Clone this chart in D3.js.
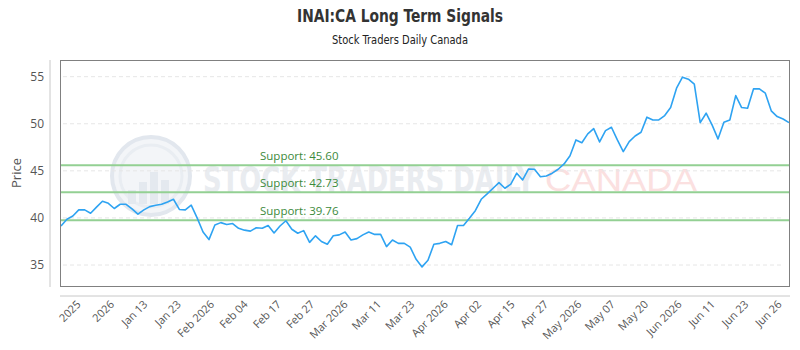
<!DOCTYPE html>
<html>
<head>
<meta charset="utf-8">
<script src="https://cdn.jsdelivr.net/npm/d3@7/dist/d3.min.js"></script>
<style>
  html, body { margin: 0; padding: 0; background: #fff; }
  svg { display: block; }
</style>
</head>
<body>
<svg id="chart" width="800" height="350"></svg>
<script>
// ---- Data ----
const prices = [
  39.14, 39.86, 40.20, 40.85, 40.85, 40.50, 41.15, 41.77, 41.55, 41.00,
  41.45, 41.45, 40.95, 40.40, 40.85, 41.20, 41.35, 41.45, 41.70, 41.98,
  40.90, 40.85, 41.35, 40.00, 38.50, 37.70, 39.25, 39.50, 39.30, 39.40,
  38.90, 38.70, 38.60, 38.96, 38.90, 39.20, 38.40, 39.14, 39.70, 38.80,
  38.37, 38.65, 37.40, 38.10, 37.50, 37.20, 38.10, 38.20, 38.50, 37.65,
  37.80, 38.20, 38.50, 38.25, 38.25, 36.95, 37.65, 37.30, 37.30, 36.90,
  35.60, 34.80, 35.50, 37.20, 37.30, 37.50, 37.15, 39.20, 39.20, 39.96,
  40.77, 41.98, 42.55, 43.15, 43.75, 43.15, 43.58, 44.75, 44.03, 45.20,
  45.17, 44.38, 44.46, 44.75, 45.17, 45.73, 46.60, 48.28, 47.99, 48.92,
  49.48, 48.07, 49.27, 49.63, 48.28, 47.04, 48.10, 48.70, 49.10, 50.70,
  50.40, 50.40, 50.87, 51.72, 53.78, 54.95, 54.73, 54.20, 50.12, 51.12,
  49.88, 48.39, 50.16, 50.40, 52.99, 51.72, 51.65, 53.70, 53.70, 53.25,
  51.37, 50.76, 50.50, 50.12
];
const tickLabels = [
  "2025", "2026", "Jan 13", "Jan 23", "Feb 2026", "Feb 04", "Feb 17", "Feb 27",
  "Mar 2026", "Mar 11", "Mar 23", "Apr 2026", "Apr 02", "Apr 15", "Apr 27",
  "May 2026", "May 07", "May 20", "Jun 2026", "Jun 11", "Jun 23", "Jun 26"
];
const yTicks = [35, 40, 45, 50, 55];
const supportLevels = [45.60, 42.73, 39.76];
const titleText = "INAI:CA Long Term Signals";
const subtitleText = "Stock Traders Daily Canada";

// ---- Layout ----
const W = 800, H = 350;
const plot = { left: 60, right: 789, top: 60, bottom: 286 };
const svg = d3.select("#chart");
const sansFont = "'Open Sans', 'Noto Sans', sans-serif";
const narrowFont = "'Liberation Sans Narrow', 'DejaVu Sans Condensed', 'Roboto', sans-serif";

const x = d3.scaleLinear().domain([0, prices.length - 1]).range([plot.left + 1, plot.right]);
const y = d3.scaleLinear().domain([32.77, 56.77]).range([plot.bottom, plot.top]);
const xLab = d3.scalePoint().domain(tickLabels).range([78, 779]);

// Title
svg.append("text").attr("x", W / 2).attr("y", 22).attr("text-anchor", "middle")
  .attr("font-family", narrowFont).attr("font-weight", "bold").attr("font-size", 18)
  .attr("textLength", 206).attr("lengthAdjust", "spacingAndGlyphs")
  .attr("fill", "#333").text(titleText);
svg.append("text").attr("x", W / 2).attr("y", 44).attr("text-anchor", "middle")
  .attr("font-family", narrowFont).attr("font-size", 12)
  .attr("textLength", 136).attr("lengthAdjust", "spacingAndGlyphs")
  .attr("fill", "#222").text(subtitleText);

// Watermark
const wm = svg.append("g").attr("class", "watermark");
wm.append("circle").attr("cx", 151).attr("cy", 176).attr("r", 39)
  .attr("fill", "#f3f5f8").attr("stroke", "#e2e7ee").attr("stroke-width", 4);
wm.append("circle").attr("cx", 151).attr("cy", 176).attr("r", 31)
  .attr("fill", "none").attr("stroke", "#e9edf2").attr("stroke-width", 3);
[[128, 190, 8, 14], [139, 182, 8, 22], [150, 172, 8, 32], [161, 180, 8, 24]].forEach(b => {
  wm.append("rect").attr("x", b[0]).attr("y", b[1]).attr("width", b[2]).attr("height", b[3])
    .attr("fill", "#e4e9ef");
});
wm.append("text").attr("x", 203).attr("y", 192)
  .attr("font-family", narrowFont).attr("font-weight", "bold").attr("font-size", 36)
  .attr("textLength", 332).attr("lengthAdjust", "spacingAndGlyphs")
  .attr("fill", "#e9ecf0").text("STOCK TRADERS DAILY");
wm.append("text").attr("x", 545).attr("y", 191)
  .attr("font-family", "'Liberation Sans', Arial, sans-serif").attr("font-size", 32)
  .attr("textLength", 152).attr("lengthAdjust", "spacingAndGlyphs")
  .attr("fill", "#fbe0e0").text("CANADA");

// Grid lines
svg.append("g").selectAll("line").data(yTicks).join("line")
  .attr("x1", plot.left + 3).attr("x2", plot.right - 6)
  .attr("y1", d => y(d)).attr("y2", d => y(d))
  .attr("stroke", "#e6e6e6").attr("stroke-width", 1).attr("stroke-dasharray", "4,3");

// Y axis (light line at x=50)
const yAxis = d3.axisLeft(y).tickValues(yTicks).tickSize(0).tickPadding(6);
const gy = svg.append("g").attr("transform", "translate(50,0)").call(yAxis);
gy.select(".domain").attr("stroke", "#c8c8c8").attr("d", `M0,${plot.top}V${plot.bottom + 1}`);
gy.selectAll("text").attr("font-family", sansFont).attr("font-size", 12).attr("fill", "#555");

svg.append("text").attr("transform", `translate(21,${(plot.top + plot.bottom) / 2}) rotate(-90)`)
  .attr("text-anchor", "middle").attr("font-family", sansFont).attr("font-size", 13)
  .attr("fill", "#555").text("Price");

// X axis (light line at y=296)
const xAxis = d3.axisBottom(xLab).tickSize(0).tickPadding(0);
const gx = svg.append("g").attr("transform", "translate(0,296)").call(xAxis);
gx.select(".domain").attr("stroke", "#c8c8c8").attr("d", `M${plot.left},0H${plot.right + 1}`);
gx.selectAll("text").attr("font-family", sansFont).attr("font-size", 11).attr("fill", "#555")
  .attr("text-anchor", "end").attr("dy", null).attr("y", null)
  .attr("transform", "translate(3,9) rotate(-45)");

// Support lines
const sg = svg.append("g");
sg.selectAll("line").data(supportLevels).join("line")
  .attr("x1", plot.left).attr("x2", plot.right)
  .attr("y1", d => y(d)).attr("y2", d => y(d))
  .attr("stroke", "#93d093").attr("stroke-width", 2);
sg.selectAll("text").data(supportLevels).join("text")
  .attr("x", 260).attr("y", d => y(d) - 5)
  .attr("font-family", sansFont).attr("font-size", 11.5).attr("fill", "#3b8a3b")
  .text(d => "Support: " + d.toFixed(2));

// Price line
const line = d3.line().x((d, i) => x(i)).y(d => y(d));
svg.append("path").datum(prices).attr("d", line)
  .attr("fill", "none").attr("stroke", "#2ea3f2").attr("stroke-width", 1.6)
  .attr("stroke-linejoin", "round");

// Plot frame
svg.append("rect").attr("x", plot.left + 0.5).attr("y", plot.top + 0.5)
  .attr("width", plot.right - plot.left).attr("height", plot.bottom - plot.top)
  .attr("fill", "none").attr("stroke", "#808080").attr("stroke-width", 1);
</script>
</body>
</html>
